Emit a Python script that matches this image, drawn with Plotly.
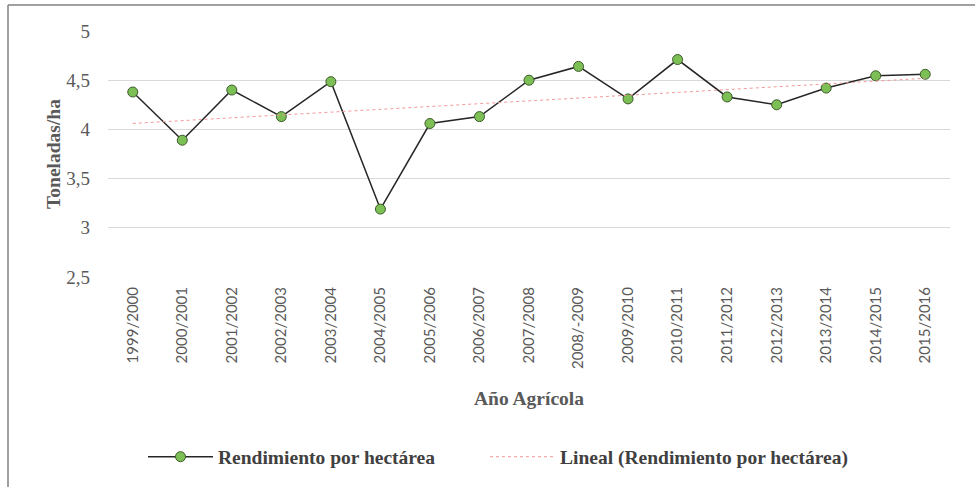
import numpy as np
import plotly.graph_objects as go

categories = ["1999/2000", "2000/2001", "2001/2002", "2002/2003", "2003/2004",
              "2004/2005", "2005/2006", "2006/2007", "2007/2008", "2008/-2009",
              "2009/2010", "2010/2011", "2011/2012", "2012/2013", "2013/2014",
              "2014/2015", "2015/2016"]
rendimiento = [4.38, 3.89, 4.40, 4.13, 4.485, 3.19, 4.06, 4.13, 4.50, 4.64,
               4.31, 4.71, 4.33, 4.25, 4.42, 4.545, 4.56]
y_ticks = [2.5, 3, 3.5, 4, 4.5, 5]
y_ticktext = ["2,5", "3", "3,5", "4", "4,5", "5"]

# Linear trend (Excel-style "Lineal" trendline)
idx = np.arange(len(rendimiento))
slope, intercept = np.polyfit(idx, rendimiento, 1)
trend = (slope * idx + intercept).tolist()

W, H = 975, 487
ML, MR, MT, MB = 108, 25, 31, 210
PW, PH = W - ML - MR, H - MT - MB

fig = go.Figure()
fig.add_trace(go.Scatter(
    x=categories, y=rendimiento, mode="lines+markers",
    name="Rendimiento por hectárea", legend="legend",
    line=dict(color="#262626", width=1.5),
    marker=dict(size=10, color="#7cbf55", line=dict(color="#3d5a2c", width=1)),
))
fig.add_trace(go.Scatter(
    x=categories, y=trend, mode="lines",
    name="Lineal (Rendimiento por hectárea)", legend="legend2",
    line=dict(color="#f49a9a", width=1, dash="dot"),
))

serif = "Liberation Serif, Times New Roman, serif"
legend_font = dict(family=serif, size=19.5, color="#404040", weight="bold")
legend_y = (MT + PH - 457) / PH

fig.update_layout(
    width=W, height=H,
    margin=dict(l=ML, r=MR, t=MT, b=MB, autoexpand=False),
    paper_bgcolor="white", plot_bgcolor="white",
    showlegend=True,
    legend=dict(
        orientation="h", x=(143 - ML) / PW, xanchor="left",
        y=legend_y, yanchor="middle", font=legend_font, itemwidth=65,
    ),
    legend2=dict(
        orientation="h", x=(485 - ML) / PW, xanchor="left",
        y=legend_y, yanchor="middle", font=legend_font, itemwidth=65,
    ),
    xaxis=dict(
        type="category", tickangle=-90, automargin=False,
        range=[-0.5, len(categories) - 0.5],
        tickfont=dict(family="Lato, Noto Sans, sans-serif", size=15, color="#595959"),
        showgrid=False, zeroline=False, showline=False, ticks="", ticklabelstandoff=6,
        title=dict(text="Año Agrícola", standoff=23,
                   font=dict(family=serif, size=19.5, color="#595959", weight="bold")),
    ),
    yaxis=dict(
        range=[2.5, 5.0], tickvals=y_ticks, ticktext=y_ticktext, automargin=False,
        tickfont=dict(family=serif, size=19, color="#595959"),
        showgrid=True, gridcolor="#d9d9d9", gridwidth=1,
        zeroline=False, showline=False, ticks="", ticklabelstandoff=17,
        title=dict(text="Toneladas/ha", standoff=0,
                   font=dict(family=serif, size=19.5, color="#595959", weight="bold")),
    ),
)

# Outer chart border (top and left edges visible in the reference)
bx0 = (8 - ML) / PW
bx1 = (W - ML) / PW
by_top = 1 + (MT - 5) / PH
by_bot = (MT + PH - H) / PH
fig.add_shape(type="line", xref="paper", yref="paper", x0=bx0, x1=bx1, y0=by_top, y1=by_top,
              line=dict(color="#808080", width=1.5))
fig.add_shape(type="line", xref="paper", yref="paper", x0=bx0, x1=bx0, y0=by_top, y1=by_bot,
              line=dict(color="#808080", width=1.5))

fig.write_html("out.html", config={"displayModeBar": False},
               post_script="document.body.style.margin='0';")
